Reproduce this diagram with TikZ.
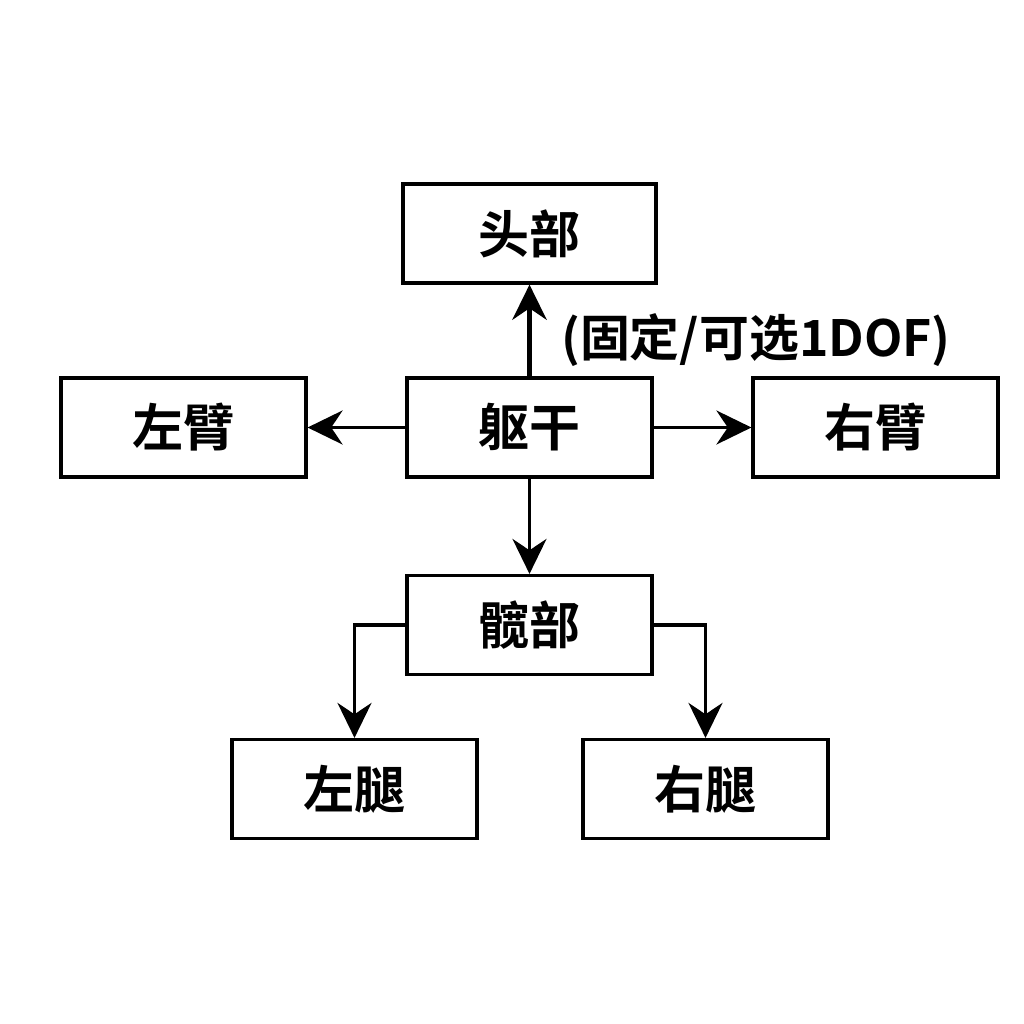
\documentclass[tikz,border=0pt]{standalone}
\usepackage{fontspec}
\newfontfamily\cjkfont{Noto Sans CJK SC}[BoldFont={Noto Sans CJK SC Bold}]
\usetikzlibrary{arrows.meta}

\begin{document}
\begin{tikzpicture}[
	part/.style={draw, line width=0.9pt, minimum height=9.9mm, minimum width=24.5mm, font=\cjkfont\bfseries\fontsize{14.5}{16}\selectfont},
	link/.style={-{Stealth[length=3.5mm, width=3.4mm]}, line width=0.9pt},
	node distance=34.6mm,
	]
	\useasboundingbox (0,0) rectangle (10.24,10.24);

	\node[part] (torso) at (5.295,5.965) {躯干};
	\node[part, left of=torso] (larm) {左臂};
	\node[part, right of=torso] (rarm) {右臂};
	\node[part, above of=torso, node distance=19.4mm, minimum width=25.3mm] (head) {头部};
	\node[part, below of=torso, node distance=19.75mm] (hip) {髋部};
	\node[part, below of=hip, node distance=16.4mm, xshift=-17.5mm] (lleg) {左腿};
	\node[part, below of=hip, node distance=16.4mm, xshift=17.6mm] (rleg) {右腿};

	\draw[link, line width=1.7pt] (torso) -- node[anchor=west, xshift=1.7mm, pos=0.4, font=\cjkfont\bfseries\fontsize{14.2}{16}\selectfont] (dof) {(固定/可选1DOF)} (head);
	\draw[link] (torso) -- (larm);
	\draw[link] (torso) -- (rarm);
	\draw[link] (torso) -- (hip);
	\draw[link] (hip.west) -| (lleg.north);
	\draw[link] (hip.east) -| (rleg.north);

\end{tikzpicture}
\end{document}
